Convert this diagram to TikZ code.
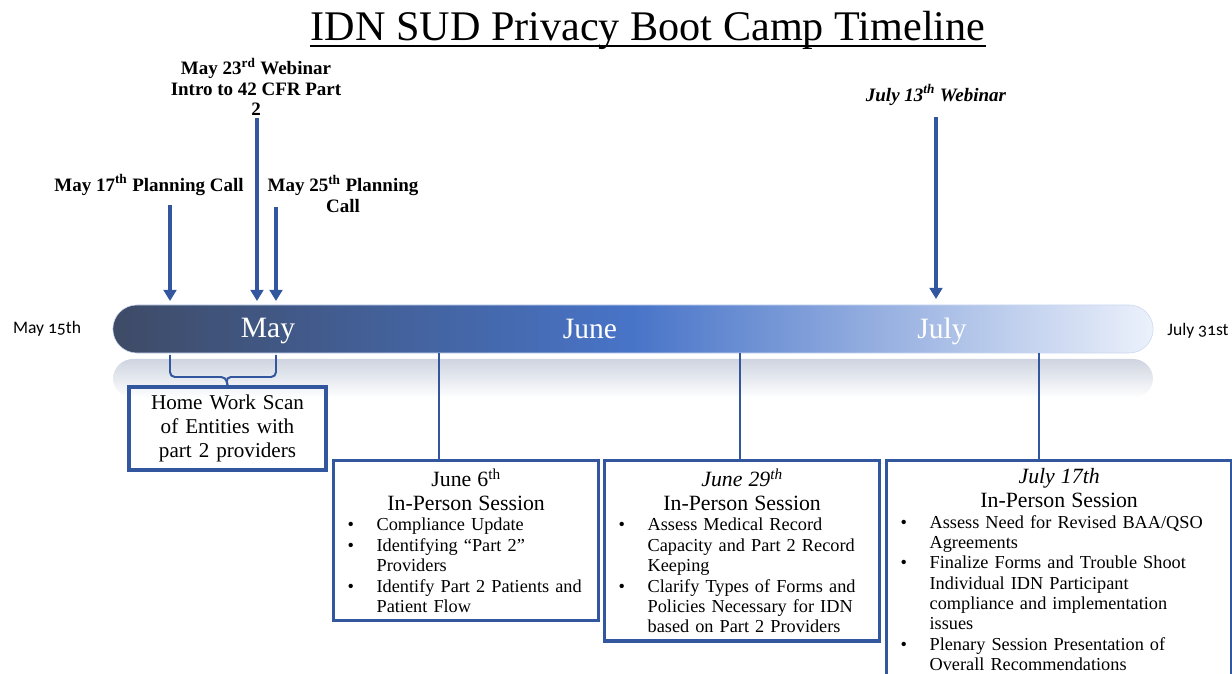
\documentclass[tikz,border=0pt]{standalone}
\usepackage{fontspec}
\setmainfont{Liberation Serif}
\newfontfamily\edgefont[Numbers=OldStyle]{Carlito}
\usetikzlibrary{arrows.meta}

\definecolor{tlblue}{RGB}{50,87,158}
\definecolor{barleft}{RGB}{62,75,102}
\definecolor{barmid}{RGB}{72,116,200}
\definecolor{barright}{RGB}{236,241,251}
\definecolor{barshadow}{RGB}{206,212,224}

\newcommand{\tlitem}[1]{\par\noindent\hangindent=1.075cm\hangafter=1\makebox[1.075cm][l]{\hspace{0.35cm}\textbullet}#1}
\newcommand{\sessionhead}[2]{{\centering\fontsize{15.5}{17}\selectfont #1\\ #2\par}}

\tikzset{
  callout/.style={font=\fontsize{13.5}{14.5}\selectfont\bfseries, align=center, inner sep=1pt},
  month/.style={font=\fontsize{21}{24}\selectfont, text=white, anchor=base},
  edge/.style={font=\edgefont\fontsize{12.5}{15}\selectfont},
  tick/.style={draw=tlblue, line width=2.3pt, -{Triangle[length=0.28cm,width=0.32cm]}},
  link/.style={draw=tlblue, line width=1.7pt},
  bracket/.style={draw=tlblue, line width=1.4pt, rounded corners=0.12cm},
  homebox/.style={draw=tlblue, line width=2.3pt, align=center, inner sep=0pt,
    text width=4.925cm, minimum height=2.075cm, font=\fontsize{15}{17}\selectfont},
  session/.style={draw=tlblue, line width=2.3pt, anchor=north west, inner xsep=0pt,
    inner ysep=0.2cm, align=left, font=\fontsize{13}{14.5}\selectfont},
}

\begin{document}
\begin{tikzpicture}[x=0.025cm, y=-0.025cm]
		%%%%% START %%%%%
		\clip (0, 0) rectangle (1232, 674);
		
		\node[font=\fontsize{30}{34}\selectfont, inner xsep=0pt] (title) at (648, 30) {IDN SUD Privacy Boot Camp Timeline};
		\draw[line width=1.2pt] ([yshift=-0.14cm]title.base west) -- ([yshift=-0.14cm]title.base east);
		
		% the bar and its reflection
		\shade[top color=barshadow, bottom color=white, rounded corners=0.5cm] (113, 359) rectangle (1153, 398);
		\node[draw=barright!80!barmid, line width=0.4pt, minimum width=26cm, minimum height=1.2cm, rounded corners=0.6cm,
		      left color=barleft, right color=barright, middle color=barmid] (bar) at (633, 329) {};
		
		\node[month] (may) at (268, 338) {May};
		\node[month] (june) at (590, 339) {June};
		\node[month] (july) at (942, 339) {July};
		
		\node[edge] (start) at (47, 329) {May 15th};
		\node[edge] (end) at (1198, 331) {July 31st};
		
		% calls and webinars
		\node[callout] (call17) at (149, 185) {May 17\textsuperscript{th} Planning Call};
		\node[callout] (web23) at (256, 87) {May 23\textsuperscript{rd} Webinar\\Intro to 42 CFR Part\\2};
		\node[callout] (call25) at (343, 194) {May 25\textsuperscript{th} Planning\\Call};
		\node[callout, font=\fontsize{13.5}{14.5}\selectfont\bfseries\itshape] (web13) at (936, 95) {July 13\textsuperscript{th} Webinar};
		
		\coordinate (d17) at (170, 301);
		\coordinate (d23) at (257, 301);
		\coordinate (d25) at (276, 301);
		\coordinate (d13) at (936, 299);
		\draw[tick] (d17 |- 0, 205) -- (d17);
		\draw[tick] (d23 |- 0, 118) -- (d23);
		\draw[tick] (d25 |- 0, 207) -- (d25);
		\draw[tick] (web13.south |- 0, 117) -- (d13);
		
		% home work
		\node[homebox] (home) at (227.5, 428.5) {Home Work Scan\\of Entities with\\part 2 providers};
		\draw[bracket] (170, 355) |- (226, 377) -- (home.north);
		\draw[bracket] (276, 355) |- (226, 377) -- (home.north);
		
		% sessions
		\node[session, text width=6.625cm] (june6) at (332, 459) {\sessionhead{June 6\textsuperscript{th}}{In-Person Session}
			\tlitem{Compliance Update}
			\tlitem{Identifying “Part 2”\newline Providers}
			\tlitem{Identify Part 2 Patients and\newline Patient Flow}\par\vspace{0.08cm}};
		\node[session, text width=6.875cm] (june29) at (603, 459) {\sessionhead{\textit{June 29\textsuperscript{th}}}{In-Person Session}
			\tlitem{Assess Medical Record\newline Capacity and Part 2 Record\newline Keeping}
			\tlitem{Clarify Types of Forms and\newline Policies Necessary for IDN\newline based on Part 2 Providers}\par};
		\node[session, text width=8.625cm] (july17) at (885, 459) {\sessionhead{\textit{July 17th}}{In-Person Session}
			\tlitem{Assess Need for Revised BAA/QSO\newline Agreements}
			\tlitem{Finalize Forms and Trouble Shoot\newline Individual IDN Participant\newline compliance and implementation\newline issues}
			\tlitem{Plenary Session Presentation of\newline Overall Recommendations}\par\vspace{1cm}};
		
		\coordinate (s6) at (439, 353);
		\coordinate (s29) at (740, 353);
		\coordinate (s17) at (1039, 353);
		\draw[link] (s6) -- (s6 |- june6.north);
		\draw[link] (s29) -- (s29 |- june29.north);
		\draw[link] (s17) -- (s17 |- july17.north);
		
		%%%%% END %%%%%
	\end{tikzpicture}
\end{document}
